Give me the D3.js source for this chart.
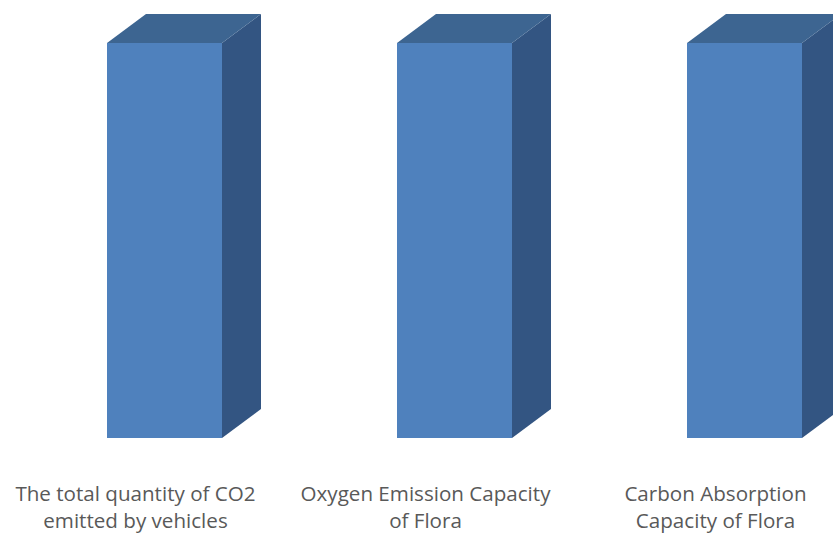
<!DOCTYPE html>
<html lang="en">
<head>
  <meta charset="UTF-8">
  <title>3D column chart</title>
  <style>
    body { margin: 0; background: #fff; }
    .label {
      font: 20.6px "Open Sans", sans-serif;
      fill: #595959;
      text-anchor: middle;
    }
  </style>
</head>
<body>
  <svg width="833" height="534"></svg>

  <script src="https://d3js.org/d3.v7.min.js"></script>
  <script>
    const categories = [
      "The total quantity of CO2 emitted by vehicles",
      "Oxygen Emission Capacity of Flora",
      "Carbon Absorption Capacity of Flora"
    ];
    const labelLines = [
      ["The total quantity of CO2", "emitted by vehicles"],
      ["Oxygen Emission Capacity", "of Flora"],
      ["Carbon Absorption", "Capacity of Flora"]
    ];
    const values = [100, 100, 100];

    const svg = d3.select("svg");
    const depthX = 39, depthY = 29;

    const x = d3.scaleBand()
      .domain(categories)
      .range([107, 802])
      .paddingInner(175 / 290)
      .paddingOuter(0);

    const y = d3.scaleLinear()
      .domain([0, 100])
      .range([438, 43]);

    const bw = x.bandwidth();
    const bars = svg.append("g")
      .selectAll("g")
      .data(categories.map((c, i) => ({ c, v: values[i] })))
      .enter().append("g");

    // side face
    bars.append("path")
      .attr("fill", "#335582")
      .attr("d", d => {
        const x1 = x(d.c) + bw, yt = y(d.v), yb = y(0);
        return `M${x1},${yt}L${x1 + depthX},${yt - depthY}L${x1 + depthX},${yb - depthY}L${x1},${yb}Z`;
      });

    // top face
    bars.append("path")
      .attr("fill", "#3D6591")
      .attr("d", d => {
        const x0 = x(d.c), yt = y(d.v);
        return `M${x0},${yt}L${x0 + depthX},${yt - depthY}L${x0 + bw + depthX},${yt - depthY}L${x0 + bw},${yt}Z`;
      });

    // front face
    bars.append("rect")
      .attr("fill", "#4F81BD")
      .attr("x", d => x(d.c))
      .attr("y", d => y(d.v))
      .attr("width", bw)
      .attr("height", d => y(0) - y(d.v));

    const labels = svg.append("g")
      .selectAll("text")
      .data(categories)
      .enter().append("text")
      .attr("class", "label")
      .attr("x", d => x(d) + bw / 2 - 29)
      .attr("y", 501);

    labels.selectAll("tspan")
      .data((d, i) => labelLines[i])
      .enter().append("tspan")
      .attr("x", function () { return this.parentNode.getAttribute("x"); })
      .attr("dy", (d, i) => i === 0 ? 0 : 27)
      .text(d => d);
  </script>
</body>
</html>
